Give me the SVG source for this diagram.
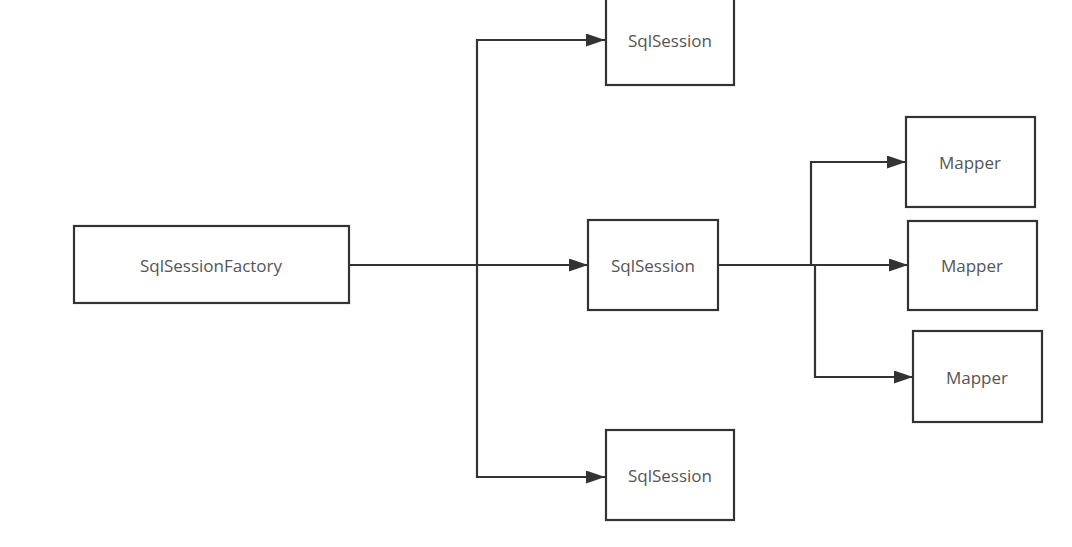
<svg xmlns="http://www.w3.org/2000/svg" width="1072" height="547" viewBox="0 0 1072 547">
<style>
.box{fill:#fff;stroke:#333;stroke-width:2.2}
.lbl{font-family:"Open Sans","Noto Sans",sans-serif;font-size:17px;fill:#555;text-anchor:middle;dominant-baseline:central}
.ln{fill:none;stroke:#333;stroke-width:2.2}
</style>
<defs>
<marker id="ah" markerWidth="19" markerHeight="13" refX="19" refY="6.5" orient="auto" markerUnits="userSpaceOnUse">
<path d="M0,0 L19,6.5 L0,13 Z" fill="#333"/>
</marker>
</defs>
<rect width="1072" height="547" fill="#fff"/>
<g id="connectors">
<path class="ln" d="M349,265 H477" stroke-width="2.8"/>
<path class="ln" d="M477,265 H588" marker-end="url(#ah)"/>
<path class="ln" d="M477,265 V40 H605" marker-end="url(#ah)"/>
<path class="ln" d="M477,265 V477 H605" marker-end="url(#ah)"/>
<path class="ln" d="M718,265 H908" marker-end="url(#ah)"/>
<path class="ln" d="M811,265 V162 H906" marker-end="url(#ah)"/>
<path class="ln" d="M815,265 V377 H913" marker-end="url(#ah)"/>
</g>
<g id="factory"><rect class="box" x="74" y="226" width="275" height="77"/><text class="lbl" x="211" y="265">SqlSessionFactory</text></g>
<g id="session1"><rect class="box" x="606" y="-5" width="128" height="90"/><text class="lbl" x="670" y="40">SqlSession</text></g>
<g id="session2"><rect class="box" x="588" y="220" width="130" height="90"/><text class="lbl" x="653" y="265">SqlSession</text></g>
<g id="session3"><rect class="box" x="606" y="430" width="128" height="90"/><text class="lbl" x="670" y="475">SqlSession</text></g>
<g id="mapper1"><rect class="box" x="906" y="117" width="129" height="90"/><text class="lbl" x="970" y="162">Mapper</text></g>
<g id="mapper2"><rect class="box" x="908" y="221" width="129" height="89"/><text class="lbl" x="972" y="265">Mapper</text></g>
<g id="mapper3"><rect class="box" x="913" y="331" width="129" height="91"/><text class="lbl" x="977" y="377">Mapper</text></g>
</svg>
